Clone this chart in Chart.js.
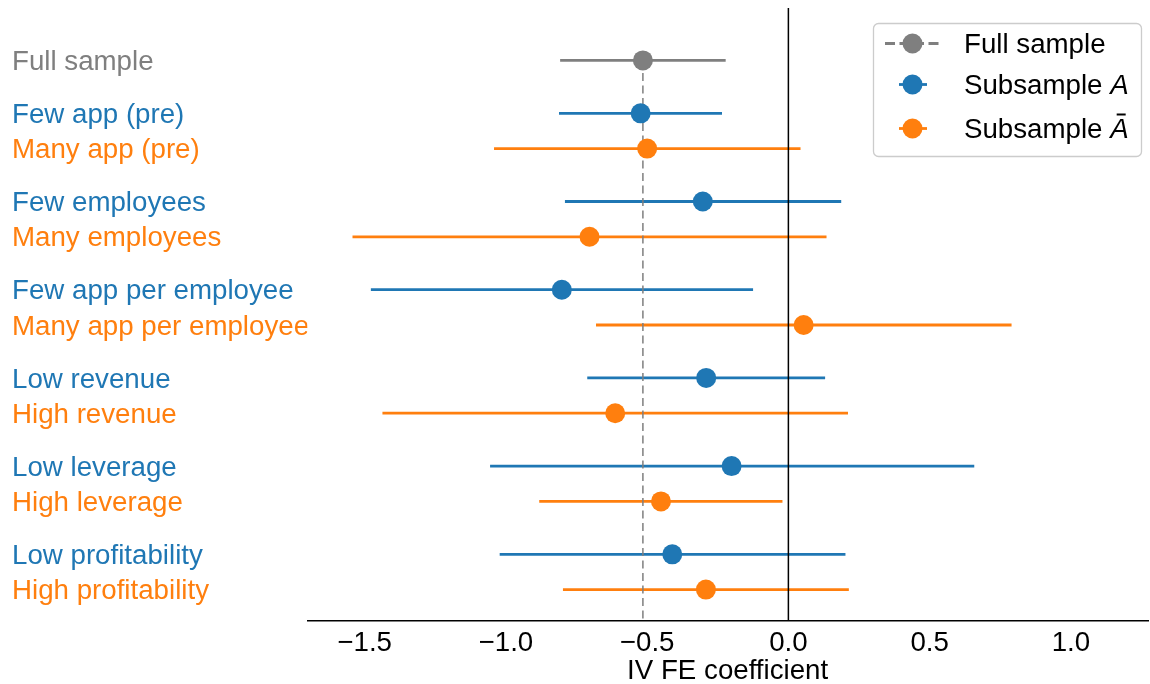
<!DOCTYPE html>
<html><head><meta charset="utf-8">
<script src="https://cdn.jsdelivr.net/npm/chart.js@4.4.1/dist/chart.umd.min.js"></script>
<style>html,body{margin:0;padding:0;background:#fff}#wrap{width:1150px;height:684px}</style>
</head><body><div id="wrap"><canvas id="c" width="1150" height="684"></canvas></div>
<script>
// ---- data ----
const fullLabel = 'Full sample';
const fullCoef = [-0.515];
const fullLo = [-0.808];
const fullHi = [-0.222];

const labelsA = ['Few app (pre)', 'Few employees', 'Few app per employee', 'Low revenue', 'Low leverage', 'Low profitability'];
const labelsB = ['Many app (pre)', 'Many employees', 'Many app per employee', 'High revenue', 'High leverage', 'High profitability'];

const coefA = [-0.523, -0.303, -0.802, -0.291, -0.201, -0.411];
const loA   = [-0.812, -0.791, -1.478, -0.712, -1.056, -1.022];
const hiA   = [-0.235,  0.187, -0.125,  0.130,  0.658,  0.202];

const coefB = [-0.500, -0.704,  0.054, -0.613, -0.451, -0.292];
const loB   = [-1.042, -1.543, -0.681, -1.437, -0.882, -0.798];
const hiB   = [ 0.043,  0.135,  0.790,  0.211, -0.021,  0.214];

const xTicks = [-1.5, -1.0, -0.5, 0.0, 0.5, 1.0];
const legendLabels = ['Full sample', 'Subsample A', 'Subsample Ā'];
const xTitle = 'IV FE coefficient';

// ---- styling ----
const COL_FULL = '#7f7f7f', COL_A = '#1f77b4', COL_B = '#ff7f0e';
const FONT = '"Liberation Sans", Arial, Helvetica, sans-serif';
const FS = 27.7;

// row layout: group g at g, second member offset 0.4
const yFull = [0.4];
const yA = labelsA.map((_, i) => i + 1);
const yB = labelsB.map((_, i) => i + 1.4);

const tickRows = [{y: yFull[0], label: fullLabel, color: COL_FULL}];
labelsA.forEach((l, i) => {
  tickRows.push({y: yA[i], label: l, color: COL_A});
  tickRows.push({y: yB[i], label: labelsB[i], color: COL_B});
});

const mk = (xs, ys) => xs.map((v, i) => ({x: v, y: ys[i]}));

const errorBars = {
  id: 'errorBars',
  beforeDatasetsDraw(chart) {
    const {ctx, chartArea, scales: {x, y}} = chart;
    ctx.save();
    chart.data.datasets.forEach(ds => {
      ctx.strokeStyle = ds.backgroundColor;
      ctx.lineWidth = 2.8;
      ctx.lineCap = 'butt';
      ds.data.forEach((p, i) => {
        const py = y.getPixelForValue(p.y);
        ctx.beginPath();
        ctx.moveTo(x.getPixelForValue(ds.lo[i]), py);
        ctx.lineTo(x.getPixelForValue(ds.hi[i]), py);
        ctx.stroke();
      });
    });
    // dashed reference line at full-sample coefficient
    ctx.strokeStyle = COL_FULL;
    ctx.lineWidth = 1.5;
    ctx.setLineDash([8, 4.5]);
    const fx = x.getPixelForValue(fullCoef[0]);
    ctx.beginPath();
    ctx.moveTo(fx, y.getPixelForValue(yFull[0]));
    ctx.lineTo(fx, chartArea.bottom);
    ctx.stroke();
    ctx.setLineDash([]);
    // zero line
    const zx = x.getPixelForValue(0);
    ctx.strokeStyle = '#000';
    ctx.lineWidth = 1.5;
    ctx.beginPath();
    ctx.moveTo(zx, chartArea.top);
    ctx.lineTo(zx, chartArea.bottom);
    ctx.stroke();
    ctx.restore();
  }
};

const customLegend = {
  id: 'customLegend',
  afterDraw(chart) {
    const ctx = chart.ctx;
    ctx.save();
    const bx = 873.5, by = 23.5, bw = 268, bh = 133, r = 5;
    ctx.beginPath();
    ctx.roundRect(bx, by, bw, bh, r);
    ctx.fillStyle = 'rgba(255,255,255,0.85)';
    ctx.fill();
    ctx.strokeStyle = '#cccccc';
    ctx.lineWidth = 1.3;
    ctx.stroke();
    const rowsY = [43.5, 84.5, 128.5];
    const mx = 912.5, tx = 964;
    chart.data.datasets.forEach((ds, i) => {
      const ry = rowsY[i];
      ctx.strokeStyle = ds.backgroundColor;
      ctx.lineWidth = 2.8;
      ctx.beginPath();
      if (i === 0) {
        ctx.setLineDash([10, 4.5]);
        ctx.moveTo(885, ry); ctx.lineTo(940, ry);
      } else {
        ctx.moveTo(899, ry); ctx.lineTo(927, ry);
      }
      ctx.stroke();
      ctx.setLineDash([]);
      ctx.fillStyle = ds.backgroundColor;
      ctx.beginPath();
      ctx.arc(mx, ry, 10, 0, Math.PI * 2);
      ctx.fill();
      // text
      const lab = ds.label;
      ctx.fillStyle = '#000';
      ctx.textBaseline = 'middle';
      ctx.textAlign = 'left';
      ctx.font = `${FS}px ${FONT}`;
      const ty = i === 2 ? 130 : ry + 1.5;
      if (i === 0) {
        ctx.fillText(lab, tx, ty);
      } else {
        const prefix = lab.slice(0, -1);
        ctx.fillText(prefix, tx, ty);
        const w = ctx.measureText(prefix).width;
        ctx.font = `italic ${FS}px ${FONT}`;
        ctx.fillText('A', tx + w, ty);
        if (lab.endsWith('Ā')) {
          const aw = ctx.measureText('A').width;
          ctx.strokeStyle = '#000';
          ctx.lineWidth = 2;
          ctx.beginPath();
          ctx.moveTo(tx + w + aw * 0.35, ty - 15.5);
          ctx.lineTo(tx + w + aw * 0.35 + 9, ty - 15.5);
          ctx.stroke();
        }
      }
    });
    ctx.restore();
  }
};

const fmt = v => (v < 0 ? '\u2212' : '') + Math.abs(v).toFixed(1);

new Chart(document.getElementById('c'), {
  type: 'scatter',
  data: {
    datasets: [
      {label: legendLabels[0], data: mk(fullCoef, yFull), lo: fullLo, hi: fullHi, backgroundColor: COL_FULL, borderColor: COL_FULL},
      {label: legendLabels[1], data: mk(coefA, yA), lo: loA, hi: hiA, backgroundColor: COL_A, borderColor: COL_A},
      {label: legendLabels[2], data: mk(coefB, yB), lo: loB, hi: hiB, backgroundColor: COL_B, borderColor: COL_B}
    ]
  },
  options: {
    responsive: false,
    animation: false,
    devicePixelRatio: 1,
    elements: {point: {radius: 10, hoverRadius: 10, borderWidth: 0}},
    layout: {autoPadding: false, padding: {left: 12, top: 8, right: 2, bottom: 0}},
    plugins: {legend: {display: false}, tooltip: {enabled: false}},
    scales: {
      x: {
        type: 'linear', min: -1.703, max: 1.273,
        afterBuildTicks: s => { s.ticks = xTicks.map(v => ({value: v})); },
        afterFit: s => { s.height = 63; s.paddingLeft = 0; s.paddingRight = 0; },
        grid: {display: false, drawTicks: false},
        border: {display: true, color: '#000', width: 1.5},
        ticks: {font: {family: FONT, size: FS}, color: '#000', padding: 6, callback: v => fmt(v)},
        title: {display: true, text: xTitle, font: {family: FONT, size: FS, lineHeight: 1.0}, color: '#000', padding: {top: 0, bottom: -1}}
      },
      y: {
        type: 'linear', reverse: true, min: -0.194, max: 6.756,
        afterBuildTicks: s => { s.ticks = tickRows.map(r => ({value: r.y})); },
        afterFit: s => { s.width = 295.3; s.paddingTop = 0; s.paddingBottom = 0; },
        grid: {display: false, drawTicks: false},
        border: {display: false},
        ticks: {
          autoSkip: false, crossAlign: 'far', padding: 0, labelOffset: 2,
          font: {family: FONT, size: FS},
          color: ctx => (tickRows[ctx.index] || {}).color || '#000',
          callback: (v, i) => tickRows[i].label
        }
      }
    }
  },
  plugins: [errorBars, customLegend]
});
</script>
</body></html>
